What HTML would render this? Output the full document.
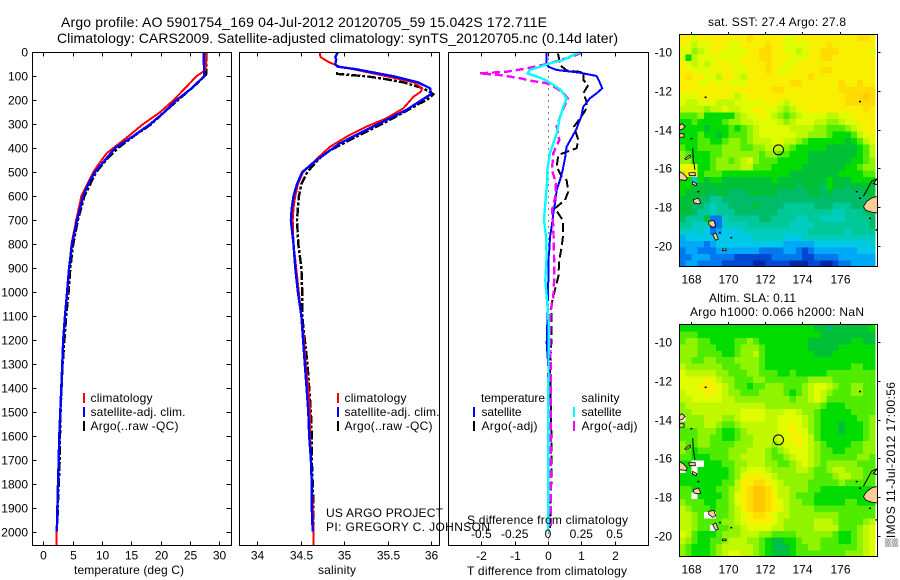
<!DOCTYPE html>
<html lang="en">
<head>
<meta charset="utf-8">
<title>Argo profile 5901754_169</title>
<style>
html,body{margin:0;padding:0;background:#fff;}
svg{display:block;font-family:"Liberation Sans","DejaVu Sans",sans-serif;font-size:12px;fill:#000;}
</style>
</head>
<body>
<svg id="chart" xmlns="http://www.w3.org/2000/svg" width="900" height="580" viewBox="0 0 900 580">
  <rect x="0" y="0" width="900" height="580" fill="#fff"/>
  <text x="61" y="27" font-size="14" textLength="486" lengthAdjust="spacing">Argo profile: AO 5901754_169 04-Jul-2012 20120705_59 15.042S 172.711E</text>
  <text x="57" y="43" font-size="14" textLength="561" lengthAdjust="spacing">Climatology: CARS2009. Satellite-adjusted climatology: synTS_20120705.nc (0.14d later)</text>
  <g id="layer"></g>
  <text x="129" y="574" text-anchor="middle" textLength="110" lengthAdjust="spacing">temperature (deg C)</text>
  <text x="337" y="574" text-anchor="middle" textLength="38" lengthAdjust="spacing">salinity</text>
  <text x="467" y="575" textLength="160" lengthAdjust="spacing">T difference from climatology</text>
  <text x="467" y="524" textLength="161" lengthAdjust="spacing">S difference from climatology</text>
  <text x="326" y="517" textLength="117" lengthAdjust="spacing">US ARGO PROJECT</text>
  <text x="326" y="531" textLength="164" lengthAdjust="spacing">PI: GREGORY C. JOHNSON</text>
  <text x="708" y="26" textLength="138" lengthAdjust="spacing">sat. SST: 27.4  Argo: 27.8</text>
  <text x="709" y="302" textLength="87" lengthAdjust="spacing">Altim. SLA: 0.11</text>
  <text x="690" y="316" textLength="174" lengthAdjust="spacing">Argo h1000: 0.066 h2000: NaN</text>
  <text transform="translate(895 547) rotate(-90)" textLength="165" lengthAdjust="spacing">▒IMOS 11-Jul-2012 17:00:56</text>
</svg>
<script>
// ---- depth axis ----
const depthTicks = [0,100,200,300,400,500,600,700,800,900,1000,1100,1200,1300,1400,1500,1600,1700,1800,1900,2000];
const tempTicks = [0,5,10,15,20,25,30];
const salTicks = [34,34.5,35,35.5,36];
const tDiffTicks = [-2,-1,0,1,2];
const sDiffTicks = [-0.5,-0.25,0,0.25,0.5];
const lonTicks = [168,170,172,174,176];
const latTicks = [-10,-12,-14,-16,-18,-20];

// ---- temperature panel ----
const climTempDepth = [0,50,75,100,150,200,250,300,350,400,421,459,500,550,600,700,800,900,1000,1100,1200,1300,1400,1500,1600,1700,1800,1900,2000,2057];
const climTemp = [27.7,27.7,27.6,26.1,24.15,22.2,19.9,17,14.5,11.9,10.8,9.66,8.5,7.5,6.5,5.6,4.8,4.4,4.15,3.7,3.4,3.24,3.07,2.9,2.73,2.62,2.5,2.4,2.28,2.25];
const satTempDepth = [0,100,150,200,250,300,350,400,450,500,550,600,700,800,900,1000,1100,1200,1300,1400,1500,1600,1700,1800,1900,2000];
const satTemp = [27.35,27.4,25.3,22.7,20.6,18.2,15.3,12.2,10.5,8.8,7.65,6.8,5.75,4.9,4.4,4.05,3.7,3.4,3.24,3.07,2.9,2.73,2.62,2.5,2.4,2.3];
const argoTempDepth = [0,90,100,125,150,200,250,300,350,400,450,500,600,700,800,900,1000,1100,1200,1300,1400,1500,1600,1700,1800,1900,1970];
const argoTemp = [27.8,27.8,27.4,26.4,25.3,22.9,20.6,18.4,15.4,12.7,10.7,9,7,5.9,5.1,4.6,4.32,3.9,3.6,3.3,3.1,2.95,2.85,2.8,2.65,2.45,2.4];

// ---- salinity panel ----
const climSalDepth = [0,20,40,60,70,100,125,150,165,185,210,234,275,310,352,394,450,500,550,600,650,700,800,900,1000,1100,1200,1300,1400,1500,1600,1700,1800,1900,2000,2057];
const climSal = [34.72,34.73,34.82,34.95,35.1,35.49,35.8,35.9,35.88,35.8,35.74,35.68,35.49,35.26,35.03,34.84,34.67,34.53,34.47,34.44,34.42,34.41,34.42,34.45,34.48,34.51,34.54,34.56,34.59,34.61,34.61,34.62,34.63,34.64,34.65,34.65];
const satSalDepth = [0,20,30,50,60,70,100,125,150,175,200,240,289,331,380,449,500,550,600,650,700,800,900,1000,1100,1200,1300,1400,1500,1600,1700,1800,1900,2000];
const satSal = [34.93,34.9,34.91,34.9,34.93,35.13,35.57,35.85,35.99,36,35.89,35.72,35.45,35.22,34.95,34.69,34.52,34.46,34.42,34.4,34.39,34.42,34.44,34.47,34.51,34.53,34.55,34.57,34.59,34.6,34.62,34.63,34.63,34.64];
const argoSalDepth = [83,90,100,110,125,150,175,200,213,240,289,331,373,421,477,505,550,602,700,800,900,1000,1100,1200,1300,1400,1500,1600,1700,1800,1900,1970];
const argoSal = [34.92,34.92,35.26,35.45,35.68,35.91,36.03,35.95,35.87,35.74,35.49,35.26,35.03,34.78,34.63,34.57,34.51,34.48,34.46,34.475,34.51,34.52,34.52,34.55,34.58,34.6,34.62,34.63,34.63,34.64,34.65,34.65];

// ---- difference panel ----
const satTDiffDepth = [0,46,60,74,85,99,115,150,171,192,227,268,324,394,435,491,533,575,630,672,727,770,825,867,950,1047,1130,1213,1310,1500,2000];
const satTDiff = [-0.04,-0.04,0.01,0.26,0.96,1.46,1.52,1.63,1.46,1.26,1.06,1,0.84,0.56,0.52,0.44,0.36,0.26,0.21,0.16,0.11,0.06,0.04,0.01,0.01,-0.01,-0.02,-0.04,0.01,0,0];
const argoTDiffDepth = [5,32,53,76,83,115,136,171,206,234,268,310,366,400,428,477,519,533,581,616,651,700,755,811,867,936,978,1047,1102,1186,1310,1673,1742,1881,1985];
const argoTDiff = [0.3,0.34,0.36,0.56,1.06,1.06,1.21,1.06,1.16,1.16,1,0.78,0.91,0.86,0.31,0.26,0.41,0.56,0.61,0.51,0.21,0.44,0.46,0.41,0.34,0.31,0.23,0.11,0.11,0.11,0.06,0.11,0.11,0.08,0.06];
const satSDiffDepth = [0,11,32,46,60,74,88,101,115,136,157,192,227,282,338,421,491,533,630,700,770,855,950,1047,1130,1500,2000];
const satSDiff = [0.24,0.19,0.115,0.015,-0.06,-0.135,-0.155,-0.085,-0.02,0.04,0.095,0.14,0.115,0.085,0.065,0.015,-0.005,-0.005,-0.02,-0.03,-0.015,-0.01,-0.02,-0.005,0.005,0.002,0.002];
const argoSDiffDepth = [2,16,46,67,81,88,95,108,118,129,150,171,192,254,310,366,421,491,547,603,658,727,839,936,1020,1075,1172,1310,1980];
const argoSDiff = [0.25,0.19,0.015,-0.16,-0.31,-0.515,-0.36,-0.21,-0.135,-0.01,0.065,0.115,0.15,0.1,0.065,0.085,0.04,0.03,0.06,0.055,0.03,0.04,0.045,0.047,0.04,0.02,0.015,0.02,0.02];

// ---- map cell values (colour-scale levels; null = no data) ----
const sstGrid = [
[14,14,13,14,14,14,14,14,14,14,14,15,14,14,14,14,14,13,13,14,14,14,14,14,14,14,14,14,14,15,15,14],
[14,13,12,13,13,14,14,14,13,13,14,14,14,14,15,14,14,13,13,13,13,14,14,14,15,14,14,14,14,14,14,14],
[13,13,11,12,13,14,14,13,13,13,13,14,14,15,15,14,14,13,13,12,13,14,14,15,15,15,14,14,14,14,14,13],
[13,9,12,13,13,13,13,13,13,13,14,14,14,15,15,14,14,14,13,13,13,14,14,15,15,14,14,14,14,14,14,14],
[14,13,12,13,12,13,14,14,13,13,14,14,14,14,15,14,14,13,13,14,14,14,14,14,14,14,14,14,14,14,14,14],
[14,14,13,13,13,14,13,14,14,13,13,14,14,14,15,14,13,13,14,14,14,14,14,15,15,14,14,14,14,14,14,14],
[14,15,14,14,13,13,12,14,14,13,12,14,14,14,14,14,14,14,14,14,14,15,14,14,14,14,14,14,14,14,14,14],
[14,14,14,13,13,14,13,14,13,13,13,14,14,14,14,14,14,14,15,15,14,14,14,14,14,14,15,14,14,15,14,14],
[14,14,14,14,14,14,14,14,14,14,14,14,14,14,14,15,15,14,14,14,14,14,14,14,14,14,15,15,15,15,15,15],
[13,13,13,14,14,14,14,14,13,12,13,14,14,14,14,14,14,14,14,14,14,14,14,14,14,14,14,15,15,15,16,15],
[13,12,12,13,13,13,12,12,12,13,13,13,13,13,14,14,13,12,13,14,14,14,14,14,14,14,14,15,15,15,15,15],
[12,12,12,12,11,12,12,13,12,12,13,13,14,14,13,13,12,11,12,13,14,14,14,14,14,14,14,14,14,14,15,14],
[10,10,10,11,9,9,9,9,9,11,12,13,13,14,13,12,11,10,11,12,13,13,13,13,12,12,13,13,14,14,14,14],
[9,9,10,9,9,9,9,10,11,11,12,12,13,13,13,13,12,11,12,13,13,13,12,12,11,11,12,13,13,14,14,14],
[9,9,9,9,8,9,9,9,10,9,10,11,12,13,13,13,13,13,12,12,12,12,11,11,10,10,10,11,12,13,14,14],
[9,9,9,10,9,9,8,9,10,10,10,11,12,13,13,13,13,13,13,12,12,11,11,11,10,9,9,9,10,12,13,14],
[9,9,9,10,10,9,9,10,11,11,10,11,12,12,12,13,13,12,12,11,10,9,9,9,9,9,9,8,9,10,12,13],
[10,9,9,10,10,10,10,11,11,11,10,10,11,11,12,12,12,11,10,9,9,9,9,9,8,8,8,8,8,9,10,12],
[11,10,9,9,9,10,10,11,11,11,11,11,11,10,11,11,10,10,9,9,9,8,8,8,8,8,8,8,8,9,10,12],
[11,11,9,9,9,10,11,11,10,11,12,13,11,10,10,10,9,9,9,9,9,8,8,8,8,8,8,8,9,9,10,11],
[13,14,13,9,9,10,11,11,11,11,12,12,10,10,10,9,9,9,9,9,8,8,8,8,8,8,8,9,9,10,11,11],
[12,14,13,9,10,10,10,9,9,9,9,9,9,9,9,9,9,9,8,8,8,8,8,8,8,8,9,9,9,9,10,10],
[9,9,4,9,8,9,9,8,8,8,8,8,8,8,8,9,8,8,8,8,8,8,8,8,9,8,8,8,9,9,9,9],
[9,9,8,8,8,8,8,8,8,8,8,8,8,8,8,8,8,8,8,7,8,8,8,7,9,8,8,7,8,8,8,8],
[9,8,8,8,8,7,8,8,7,7,7,8,8,8,8,8,7,7,7,7,7,8,8,7,8,7,7,7,7,7,8,8],
[8,8,8,7,7,6,6,7,7,7,7,7,7,7,7,7,7,7,7,7,7,7,7,7,7,7,7,7,7,7,7,8],
[8,8,7,7,6,5,6,6,7,7,7,7,8,7,7,7,7,6,6,6,6,6,7,7,7,6,6,6,7,7,7,7],
[8,8,7,6,6,5,6,6,6,7,7,7,7,7,7,7,6,6,6,6,6,6,6,6,6,5,5,6,6,6,7,7],
[7,6,6,6,8,2,2,5,6,6,6,6,6,7,7,6,6,6,6,5,5,6,6,5,5,5,5,6,6,6,6,7],
[6,6,5,5,5,1,2,5,5,5,5,6,6,6,6,6,6,6,5,5,5,5,6,6,6,6,6,6,6,6,6,7],
[5,5,4,5,4,2,3,4,4,4,5,5,5,5,5,5,5,5,5,5,5,6,6,6,6,6,6,5,6,6,6,6],
[3,4,4,4,4,4,4,4,4,4,4,4,5,5,5,5,5,4,4,4,5,5,5,5,5,5,5,5,5,5,5,5],
[3,3,3,3,2,3,4,4,4,4,4,4,4,4,4,4,4,3,3,3,3,3,4,4,4,4,4,4,4,4,4,5],
[2,3,3,2,2,2,3,3,3,3,3,3,3,2,2,2,2,3,3,2,1,2,3,3,3,3,3,3,3,4,4,4],
[2,2,3,3,3,2,2,2,2,1,1,1,1,1,1,2,2,2,2,2,1,1,2,2,2,2,3,3,3,3,3,3],
[2,3,3,2,2,2,2,1,1,1,1,1,0,0,1,1,1,1,0,0,0,1,1,0,0,1,2,2,3,3,3,3]
];
const slaGrid = [
[9,9,9,9,9,9,9,9,9,9,9,9,9,9,9,9,9,9,9,9,9,9,8,8,7,8,8,8,8,8,8,9],
[10,10,10,9,9,9,9,9,9,9,9,9,9,9,9,9,9,9,9,9,9,9,9,8,8,8,8,8,8,8,8,8],
[10,11,11,10,10,9,9,9,9,10,10,11,10,9,9,9,9,9,9,9,9,8,8,8,8,8,8,8,9,9,8,8],
[11,11,11,10,10,10,9,9,9,10,11,11,11,10,9,9,9,9,9,9,9,8,8,8,8,8,9,9,9,9,9,9],
[11,11,11,10,10,10,10,9,9,10,11,11,12,10,9,9,9,9,9,9,9,9,8,8,8,9,9,9,9,9,9,9],
[11,11,10,10,11,11,10,10,10,11,11,11,11,10,9,9,9,9,9,9,9,9,9,9,9,9,9,9,9,9,9,9],
[12,11,11,11,11,11,11,10,10,10,11,11,11,10,9,9,9,9,9,9,9,9,9,9,9,9,9,9,10,10,9,9],
[13,12,12,12,12,12,11,11,10,10,10,11,11,10,10,10,9,9,10,9,9,9,9,9,10,10,10,10,10,10,10,10],
[13,13,13,13,14,13,12,11,11,10,10,10,11,11,10,10,10,10,10,10,10,11,11,11,11,10,10,10,10,10,10,10],
[13,13,13,14,14,14,13,12,11,10,10,9,10,10,11,11,11,10,10,10,11,12,13,13,12,11,10,10,11,11,10,10],
[12,13,13,13,14,14,13,12,11,11,10,10,10,11,11,11,11,10,9,10,11,12,13,12,11,10,10,10,11,11,10,10],
[12,12,13,13,13,13,13,12,12,11,11,11,11,11,11,11,11,11,10,11,11,12,13,12,10,10,10,10,10,10,10,10],
[11,12,12,12,12,12,12,12,12,12,12,12,12,12,11,11,11,11,11,11,11,11,11,10,9,9,9,10,10,10,10,10],
[11,11,12,12,12,12,12,12,12,12,13,13,13,13,12,12,12,13,13,12,11,11,10,9,9,9,9,9,10,10,10,10],
[null,11,11,11,12,12,12,11,11,12,13,13,13,13,12,12,13,13,13,13,12,11,10,9,9,9,9,9,9,10,10,11],
[10,11,11,11,12,12,11,10,10,11,12,12,12,12,12,12,13,13,14,13,12,11,10,9,9,9,8,9,9,9,10,11],
[10,10,10,11,11,11,10,9,9,10,11,12,12,12,12,12,13,13,14,13,13,11,10,9,9,9,8,9,9,9,10,11],
[10,10,10,11,11,10,10,9,9,10,11,11,12,12,12,12,13,13,14,14,13,12,10,9,9,9,9,9,9,9,10,11],
[11,10,10,11,11,10,10,10,10,11,11,11,12,12,12,11,12,13,13,14,13,12,11,10,9,9,9,9,10,10,11,11],
[11,10,9,10,10,10,10,10,11,11,11,12,12,12,11,10,11,12,13,13,13,12,11,10,10,9,9,10,10,10,11,11],
[10,10,9,9,9,10,10,10,11,11,12,12,12,12,11,10,10,11,12,13,13,12,11,10,10,10,10,10,10,11,11,10],
[9,9,null,null,9,9,9,10,10,11,11,12,12,12,11,11,10,10,11,12,13,12,11,10,11,11,11,11,11,10,10,10],
[null,9,null,9,9,9,9,9,10,11,12,13,13,13,12,11,11,11,11,12,12,11,10,10,11,12,12,11,11,11,10,10],
[9,9,9,9,9,9,9,9,10,11,13,14,14,14,13,12,11,11,11,11,11,11,10,10,10,11,12,12,11,11,10,10],
[9,9,9,9,9,9,9,10,10,12,14,14,15,15,14,13,12,11,11,11,11,10,10,10,10,10,11,10,10,10,10,10],
[10,10,9,9,9,9,10,10,11,12,14,15,16,16,15,13,12,12,11,11,11,10,10,9,9,9,9,9,9,9,9,9],
[10,10,null,9,9,9,9,10,11,13,14,15,16,16,15,14,12,12,11,10,10,10,9,9,9,9,9,9,9,9,9,9],
[11,10,10,10,9,9,10,10,11,13,14,15,16,16,15,14,13,12,11,11,10,10,9,9,9,9,9,10,10,9,9,9],
[12,11,10,10,10,9,10,10,11,12,14,15,16,16,15,14,13,12,11,11,11,11,10,10,10,10,10,10,10,10,10,10],
[12,12,11,10,null,null,10,10,11,12,13,14,15,15,14,13,12,12,11,11,11,11,11,11,11,11,10,10,10,10,10,10],
[12,12,11,10,10,10,10,11,11,12,13,14,14,14,14,13,12,11,11,11,11,11,12,12,12,11,10,10,10,10,11,12],
[12,12,11,10,10,null,10,10,11,11,12,13,13,13,13,12,12,11,11,11,11,11,12,12,12,12,10,10,10,11,12,13],
[13,12,10,9,9,9,10,11,11,11,12,12,12,11,11,10,10,10,10,11,11,11,11,11,11,10,9,9,10,11,12,13],
[12,11,10,9,9,10,10,11,12,12,12,11,11,10,9,8,8,9,9,10,11,11,11,10,10,10,9,9,10,11,12,13],
[11,10,9,9,9,10,11,12,12,12,12,12,11,10,9,8,7,8,9,10,10,11,11,10,10,10,10,10,10,11,12,13],
[11,10,9,9,9,10,11,12,13,13,12,12,11,10,9,8,8,8,9,10,10,10,10,10,10,10,10,11,11,11,12,13]
];

// ---- coastline (lon/lat) ----
const islandOutlines = [
[[167.39,-13.79],[167.53,-13.69],[167.7,-13.83],[167.57,-13.97],[167.39,-14.03]],
[[167.39,-14.21],[167.64,-14.21],[167.64,-14.38],[167.39,-14.38]],
[[167.68,-15.5],[167.96,-15.31],[168,-15.41],[167.75,-15.55]],
[[167.39,-16.16],[167.61,-16.28],[167.82,-16.5],[167.75,-16.62],[167.43,-16.59],[167.39,-16.59]],
[[167.89,-16.24],[168.23,-16.21],[168.25,-16.38],[167.93,-16.38]],
[[168.1,-16.67],[168.32,-16.79],[168.29,-16.9],[168.09,-16.81]],
[[168.14,-17.62],[168.41,-17.53],[168.55,-17.79],[168.41,-17.84],[168.18,-17.79]],
[[168.97,-18.74],[169.24,-18.69],[169.34,-18.97],[169.18,-19.05],[168.97,-18.91]],
[[169.18,-19.43],[169.34,-19.34],[169.48,-19.66],[169.34,-19.72]],
[[169.7,-20.17],[169.9,-20.17],[169.9,-20.26],[169.7,-20.26]],
[[178.02,-17.45],[177.71,-17.53],[177.45,-17.71],[177.27,-17.97],[177.41,-18.17],[177.71,-18.26],[178.02,-18.31]]
];
const reefLines = [
[[168.11,-14.95],[168.14,-15.55],[168.23,-16.07]],
[[177.27,-17.45],[177.71,-16.67],[178.02,-16.53],[177.8,-16.79],[178.02,-16.84]]
];
const reefDots = [[168.8,-12.31],[177.09,-12.53],[168.04,-14.45],[169.57,-19.31],[170.18,-19.57],[177.62,-18.57],[168.41,-17.19],[176.91,-17.19],[177.09,-17.53],[177.98,-19.17]];
const profileLon = 172.711;
const profileLat = -15.042;

// ---- drawing ----
const NS = 'http://www.w3.org/2000/svg';
const layer = document.getElementById('layer');
const levelColours = ['#0028a8','#0048d0','#0078f0','#00a8f8','#00c8e8','#00ccc0','#00c898','#00bc68','#00c038','#00dc00','#50ec00','#90f400','#c0f800','#e0fc00','#f8f000','#ffdc00','#ffc800'];
const PANEL_TOP = 52.5, PANEL_BOTTOM = 545.5;
const yDepth = d => 52.3 + d * 0.2397;
const xTemp = t => 43.3 + t * 5.867;
const xSal = s => 257 + (s - 34) * 87;
const xTDiff = t => 548 + t * 33.3;
const xSDiff = s => 548 + s * 133.2;
const xLon = lon => 690.7 + (lon - 168) * 18.63;
const yLat = (lat, top) => top + 18.4 + (-10 - lat) * 19.33;

function shape(tag, name, parent) {
  const el = document.createElementNS(NS, tag);
  
  
  (parent || layer).appendChild(el);
  return el;
}
function hLine(name, x1, x2, y) {
  const el = shape('line', name);
  el.setAttribute('x1', x1); el.setAttribute('x2', x2);
  el.setAttribute('y1', y); el.setAttribute('y2', y);
  el.setAttribute('stroke', '#000');
  el.setAttribute('shape-rendering', 'crispEdges');
}
function vLine(name, x, y1, y2, colour, width, dash) {
  const el = shape('line', name);
  el.setAttribute('x1', x); el.setAttribute('x2', x);
  el.setAttribute('y1', y1); el.setAttribute('y2', y2);
  el.setAttribute('stroke', colour || '#000');
  el.setAttribute('stroke-width', width || 1);
  if (dash) el.setAttribute('stroke-dasharray', dash);
  el.setAttribute('shape-rendering', 'crispEdges');
}
function label(name, str, x, y, anchor) {
  const el = shape('text', name);
  el.setAttribute('x', x); el.setAttribute('y', y);
  if (anchor) el.setAttribute('text-anchor', anchor);
  el.textContent = str;
  return el;
}
function frame(name, x1, y1, x2, y2) {
  const el = shape('rect', name);
  el.setAttribute('x', x1); el.setAttribute('y', y1);
  el.setAttribute('width', x2 - x1); el.setAttribute('height', y2 - y1);
  el.setAttribute('fill', 'none');
  el.setAttribute('stroke', '#000');
  el.setAttribute('shape-rendering', 'crispEdges');
}
function profile(name, depths, values, xScale, colour, width, dash) {
  const el = shape('polyline', name);
  el.setAttribute('points', depths.map((d, i) => xScale(values[i]).toFixed(1) + ',' + yDepth(d).toFixed(1)).join(' '));
  el.setAttribute('fill', 'none');
  el.setAttribute('stroke', colour);
  el.setAttribute('stroke-width', width);
  if (dash) el.setAttribute('stroke-dasharray', dash);
  el.setAttribute('stroke-linejoin', 'round');
  el.setAttribute('shape-rendering', 'crispEdges');
}
function legendRow(prefix, text, barX, textX, rowY, colour, dash) {
  vLine(prefix + '-swatch', barX, rowY - 9, rowY + 1, colour, 2, dash);
  const t = label(prefix + '-label', text, textX, rowY);
  return t;
}

// panel 1: temperature
profile('temperature-argo-line', argoTempDepth, argoTemp, xTemp, '#000', 2.4, '9 2 3 2');
profile('temperature-climatology-line', climTempDepth, climTemp, xTemp, '#ff0000', 2);
profile('temperature-satellite-line', satTempDepth, satTemp, xTemp, '#0000ff', 2.4);
frame('temperature-panel-frame', 32.5, PANEL_TOP, 231.5, PANEL_BOTTOM);
depthTicks.forEach(d => {
  const y = Math.round(yDepth(d)) + 0.5;
  hLine('depth-tick-left', 32.5, 36.5, y);
  hLine('depth-tick-right', 226.5, 231.5, y);
  label('depth-tick-label', String(d), 28, y + 4, 'end');
});
tempTicks.forEach(t => {
  const x = Math.round(xTemp(t)) + 0.5;
  vLine('temperature-tick-top', x, PANEL_TOP, PANEL_TOP + 4);
  vLine('temperature-tick-bottom', x, PANEL_BOTTOM - 4, PANEL_BOTTOM);
  label('temperature-tick-label', String(t), x, 559.5, 'middle');
});
legendRow('temperature-legend-climatology', 'climatology', 84, 90.5, 402, '#ff0000').setAttribute('textLength', '62');
legendRow('temperature-legend-satellite', 'satellite-adj. clim.', 84, 90.5, 416, '#0000ff').setAttribute('textLength', '95');
legendRow('temperature-legend-argo', 'Argo(..raw -QC)', 84, 90.5, 430, '#000').setAttribute('textLength', '88');

// panel 2: salinity
profile('salinity-argo-line', argoSalDepth, argoSal, xSal, '#000', 2.4, '9 2 3 2');
profile('salinity-climatology-line', climSalDepth, climSal, xSal, '#ff0000', 2);
profile('salinity-satellite-line', satSalDepth, satSal, xSal, '#0000ff', 2.4);
frame('salinity-panel-frame', 239.5, PANEL_TOP, 439.5, PANEL_BOTTOM);
salTicks.forEach(s => {
  const x = Math.round(xSal(s)) + 0.5;
  vLine('salinity-tick-top', x, PANEL_TOP, PANEL_TOP + 4);
  vLine('salinity-tick-bottom', x, PANEL_BOTTOM - 4, PANEL_BOTTOM);
  label('salinity-tick-label', String(s), x, 559.5, 'middle');
});
legendRow('salinity-legend-climatology', 'climatology', 338, 344.5, 402, '#ff0000').setAttribute('textLength', '62');
legendRow('salinity-legend-satellite', 'satellite-adj. clim.', 338, 344.5, 416, '#0000ff').setAttribute('textLength', '95');
legendRow('salinity-legend-argo', 'Argo(..raw -QC)', 338, 344.5, 430, '#000').setAttribute('textLength', '88');

// panel 3: differences
vLine('zero-difference-line', 548.5, PANEL_TOP, PANEL_BOTTOM, '#000', 1, '1 5');
profile('t-difference-argo-line', argoTDiffDepth, argoTDiff, xTDiff, '#000', 2, '9 4');
profile('t-difference-satellite-line', satTDiffDepth, satTDiff, xTDiff, '#0000ff', 2);
profile('s-difference-argo-line', argoSDiffDepth, argoSDiff, xSDiff, '#ff00ff', 2.4, '8 4');
profile('s-difference-satellite-line', satSDiffDepth, satSDiff, xSDiff, '#00ffff', 2.4);
frame('difference-panel-frame', 448.5, PANEL_TOP, 648.5, PANEL_BOTTOM);
tDiffTicks.forEach(t => {
  const x = Math.round(xTDiff(t)) + 0.5;
  vLine('t-difference-tick-top', x, PANEL_TOP, PANEL_TOP + 4);
  vLine('t-difference-tick-bottom', x, PANEL_BOTTOM - 4, PANEL_BOTTOM);
  label('t-difference-tick-label', String(t), x, 560, 'middle');
});
sDiffTicks.forEach(s => {
  label('s-difference-tick-label', String(s), xSDiff(s), 538, 'middle');
});
label('difference-legend-temperature-heading', 'temperature', 481, 402).setAttribute('textLength', '64');
label('difference-legend-salinity-heading', 'salinity', 581.5, 402).setAttribute('textLength', '38');
legendRow('difference-legend-t-satellite', 'satellite', 474, 481.5, 416, '#0000ff').setAttribute('textLength', '40');
legendRow('difference-legend-t-argo', 'Argo(-adj)', 474, 481.5, 430, '#000').setAttribute('textLength', '56');
legendRow('difference-legend-s-satellite', 'satellite', 574, 581.5, 416, '#00ffff').setAttribute('textLength', '40');
legendRow('difference-legend-s-argo', 'Argo(-adj)', 574, 581.5, 430, '#ff00ff').setAttribute('textLength', '56');

// maps
function drawMap(prefix, grid, top) {
  const frameBottom = top + 232.5;
  grid.forEach((row, r) => row.forEach((value, c) => {
    const lonW = 167.39 + c * 0.329;
    const latN = -9.1 - r / 3;
    const cell = shape('rect', prefix + '-cell');
    const x = xLon(lonW), y = yLat(latN, top);
    cell.setAttribute('x', x.toFixed(2));
    cell.setAttribute('y', y.toFixed(2));
    cell.setAttribute('width', (xLon(lonW + 0.329) - x + 0.2).toFixed(2));
    cell.setAttribute('height', (yLat(latN - 1 / 3, top) - y + 0.2).toFixed(2));
    cell.setAttribute('fill', value === null ? '#fff' : levelColours[value]);
    cell.setAttribute('shape-rendering', 'crispEdges');
  }));
  islandOutlines.forEach(points => {
    const el = shape('polygon', prefix + '-island');
    el.setAttribute('points', points.map(p => xLon(p[0]).toFixed(1) + ',' + yLat(p[1], top).toFixed(1)).join(' '));
    el.setAttribute('fill', '#ffcc99');
    el.setAttribute('stroke', '#000');
    el.setAttribute('stroke-width', '0.8');
  });
  reefLines.forEach(points => {
    const el = shape('polyline', prefix + '-reef-line');
    el.setAttribute('points', points.map(p => xLon(p[0]).toFixed(1) + ',' + yLat(p[1], top).toFixed(1)).join(' '));
    el.setAttribute('fill', 'none');
    el.setAttribute('stroke', '#000');
  });
  reefDots.forEach(p => {
    const el = shape('rect', prefix + '-reef-dot');
    el.setAttribute('x', xLon(p[0]) - 1);
    el.setAttribute('y', yLat(p[1], top) - 0.5);
    el.setAttribute('width', 2);
    el.setAttribute('height', 1.5);
    el.setAttribute('fill', '#000');
  });
  const marker = shape('circle', prefix + '-profile-marker');
  marker.setAttribute('cx', xLon(profileLon));
  marker.setAttribute('cy', yLat(profileLat, top));
  marker.setAttribute('r', 5);
  marker.setAttribute('fill', 'none');
  marker.setAttribute('stroke', '#000');
  frame(prefix + '-frame', 679.5, top + 0.5, 877.5, frameBottom);
  lonTicks.forEach(lon => {
    const x = Math.round(xLon(lon)) + 0.5;
    vLine(prefix + '-longitude-tick', x, top - 2, top);
    label(prefix + '-longitude-label', String(lon), x, top + 249.3, 'middle');
  });
  latTicks.forEach(lat => {
    const y = Math.round(yLat(lat, top)) + 0.5;
    hLine(prefix + '-latitude-tick', 877.5, 880.5, y);
    label(prefix + '-latitude-label', String(lat), 672, y + 4, 'end');
  });
}
drawMap('sst-map', sstGrid, 34);
drawMap('sla-map', slaGrid, 324);
</script>
</body>
</html>
